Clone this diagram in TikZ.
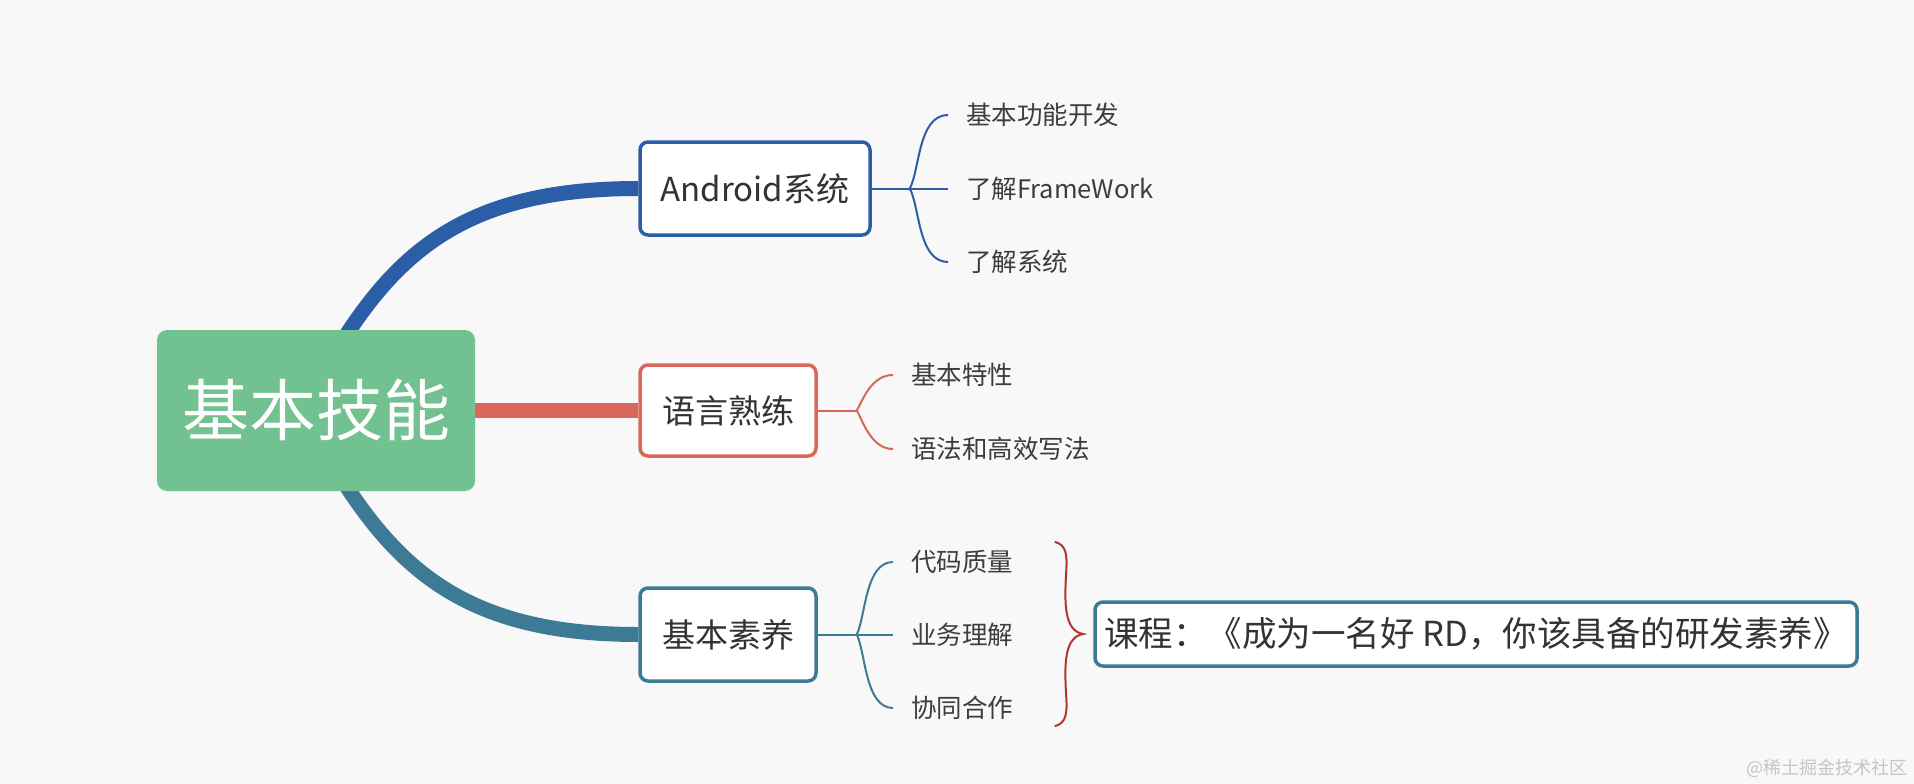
\documentclass[tikz,border=0pt]{standalone}
\usepackage{fontspec}
\setmainfont{Noto Sans CJK SC}
\usetikzlibrary{backgrounds,calc}
\definecolor{bgc}{HTML}{F8F8F8}
\definecolor{rootgreen}{HTML}{72C191}
\definecolor{cblue}{HTML}{2C5DA7}
\definecolor{cred}{HTML}{D9675A}
\definecolor{cteal}{HTML}{3C7A96}
\definecolor{cbrace}{HTML}{B0352D}
\definecolor{ctext}{HTML}{333333}
\definecolor{cleaf}{HTML}{3D3D3D}
\definecolor{cwm}{HTML}{C5C5C5}
\tikzset{
  rootbox/.style={fill=rootgreen, rounded corners=10pt, minimum width=318pt, minimum height=161pt,
    inner sep=0pt, text=white, font=\fontsize{67pt}{80pt}\selectfont},
  topic/.style={fill=white, line width=3.5pt, rounded corners=8pt, inner sep=0pt,
    text=ctext, font=\fontsize{33pt}{40pt}\selectfont},
  leaf/.style={anchor=west, inner sep=0pt, text=cleaf, font=\fontsize{25.5pt}{30pt}\selectfont},
  conn/.style={line width=15pt},
  twig/.style={line width=2pt},
  bracestroke/.style={line width=2pt, cbrace, line cap=round},
}
\begin{document}
\begin{tikzpicture}[x=1pt,y=-1pt]
\useasboundingbox (0,0) rectangle (1914,784);
\begin{pgfonlayer}{background}
\fill[bgc] (0,0) rectangle (1914,784);
\end{pgfonlayer}

% main nodes
\node[rootbox] (root) at (316,410.5) {基本技能};
\node[topic, draw=cblue, minimum width=230pt, minimum height=93pt] (and) at (755,188.5) {Android系统};
\node[topic, draw=cred, minimum width=176pt, minimum height=91pt] (lang) at (728,410.5) {语言熟练};
\node[topic, draw=cteal, minimum width=176pt, minimum height=93pt] (basic) at (728,634.5) {基本素养};
\node[topic, draw=cteal, minimum width=762pt, minimum height=64pt, font=\fontsize{34.5pt}{40pt}\selectfont] (course) at (1476,634) {课程：《成为一名好 RD，你该具备的研发素养》};

% leaves
\node[leaf] (a1) at (966,115) {基本功能开发};
\node[leaf] (a2) at (966,188.5) {了解FrameWork};
\node[leaf] (a3) at (966,262) {了解系统};
\node[leaf] (l1) at (911,375) {基本特性};
\node[leaf] (l2) at (911,449) {语法和高效写法};
\node[leaf] (b1) at (911,562) {代码质量};
\node[leaf] (b2) at (911,634.5) {业务理解};
\node[leaf] (b3) at (911,708) {协同合作};

% watermark
\node[inner sep=0pt, anchor=east, text=cwm, font=\fontsize{18pt}{22pt}\selectfont] (wm) at (1908,768) {@稀土掘金技术社区};

% branch points
\coordinate (ab) at ([xshift=38pt]and.east);
\coordinate (lb) at ([xshift=39pt]lang.east);
\coordinate (bb) at ([xshift=39pt]basic.east);
\coordinate (rs) at ([xshift=31pt,yshift=-4pt]root.north);
\coordinate (rt) at ([xshift=31pt,yshift=4pt]root.south);
\coordinate (T) at ([xshift=-10pt]course.west);

\begin{pgfonlayer}{background}
% thick connectors
\draw[conn, cblue] (rs) .. controls +(60,-91) and +(-160,0) .. (and.west);
\draw[conn, cred] (root.east) -- (lang.west);
\draw[conn, cteal] (rt) .. controls +(60,91) and +(-160,0) .. (basic.west);
\end{pgfonlayer}

% Android children
\draw[twig, cblue] (and.east) -- (ab);
\draw[twig, cblue] (ab) .. controls +(10,-18) and +(-30,0) .. ([xshift=-18pt]a1.west);
\draw[twig, cblue] (ab) -- ([xshift=-18pt]a2.west);
\draw[twig, cblue] (ab) .. controls +(10,18) and +(-30,0) .. ([xshift=-18pt]a3.west);

% language children
\draw[twig, cred] (lang.east) -- (lb);
\draw[twig, cred] (lb) .. controls +(6,-10) and +(-22,0) .. ([xshift=-18pt]l1.west);
\draw[twig, cred] (lb) .. controls +(6,10) and +(-22,0) .. ([xshift=-18pt]l2.west);

% basic children
\draw[twig, cteal] (basic.east) -- (bb);
\draw[twig, cteal] (bb) .. controls +(9,-18) and +(-28,0) .. ([xshift=-18pt]b1.west);
\draw[twig, cteal] (bb) -- ([xshift=-18pt]b2.west);
\draw[twig, cteal] (bb) .. controls +(9,18) and +(-28,0) .. ([xshift=-18pt]b3.west);

% brace
\draw[bracestroke] ($(T)+(-28,-92)$) .. controls ($(T)+(-17,-89)$) and ($(T)+(-16,-79)$) .. ($(T)+(-17,-63)$)
  .. controls ($(T)+(-19,-30)$) and ($(T)+(-19,-3)$) .. (T)
  .. controls ($(T)+(-19,3)$) and ($(T)+(-19,30)$) .. ($(T)+(-17,63)$)
  .. controls ($(T)+(-16,79)$) and ($(T)+(-17,89)$) .. ($(T)+(-28,92)$);
\end{tikzpicture}
\end{document}
